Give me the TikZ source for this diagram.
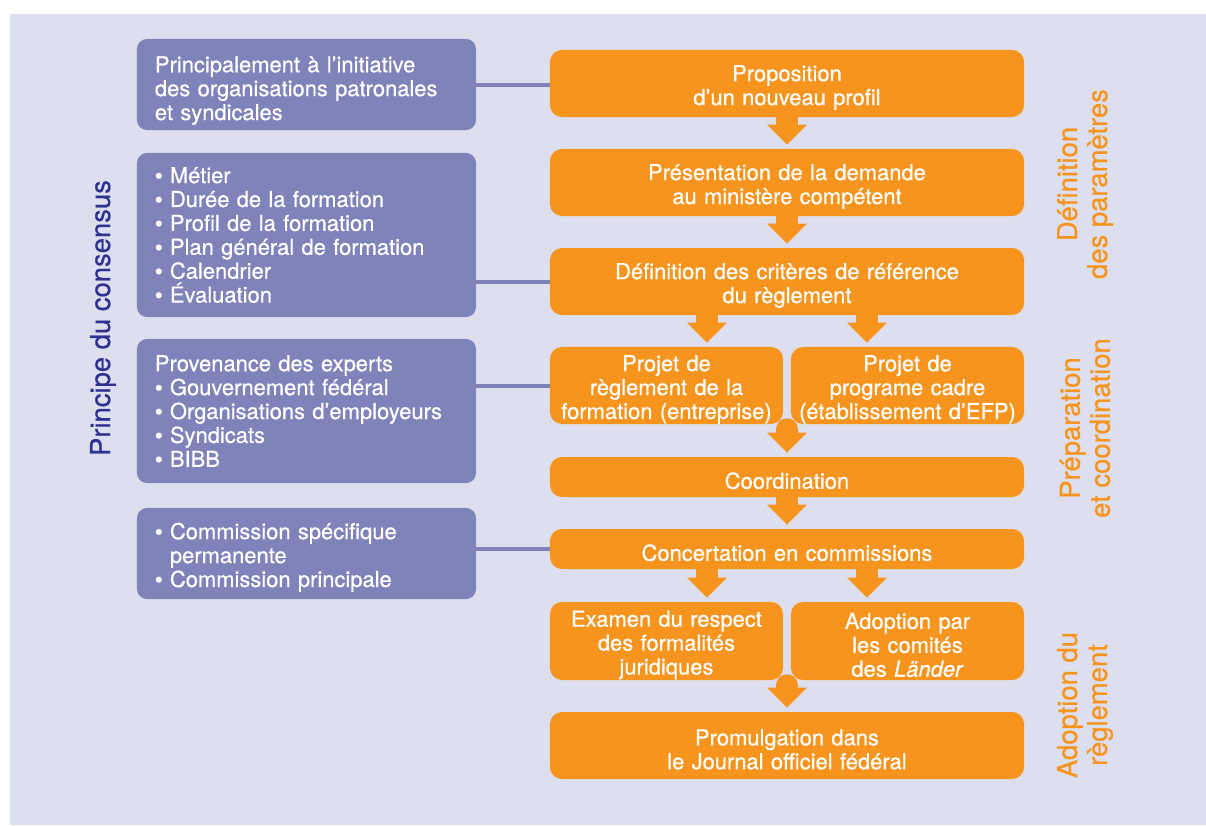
\documentclass[tikz,border=0pt]{standalone}
\usepackage{fontspec}
\setmainfont{TeX Gyre Heros}[FakeBold=0.6]
\newfontfamily\pucefont{Liberation Sans}[FakeBold=0.6]
\usepackage{xcolor}
\usetikzlibrary{arrows.meta}
\usetikzlibrary{calc}

\definecolor{fond}{HTML}{DDDFEE}
\definecolor{lila}{HTML}{8083B9}
\definecolor{orangeBFS}{HTML}{F7941D}
\definecolor{bleuBFS}{HTML}{2E3192}

\newcommand{\puce}{{\pucefont •}\ }

\begin{document}
\begin{tikzpicture}[x=0.025cm, y=-0.025cm,
	every node/.style={font=\fontsize{15.6pt}{17pt}\selectfont, text=white},
	abaisse/.style={execute at begin node={\rule{0pt}{#1}}},
	lilabox/.style={fill=lila, rounded corners=0.25cm, align=left, text width=7.575cm, inner xsep=0.45cm, inner ysep=0pt},
	orangebox/.style={fill=orangeBFS, rounded corners=0.3cm, align=center, text width=11.85cm, inner sep=0pt, abaisse=17pt},
	halfbox/.style={orangebox, text width=5.825cm},
	lien/.style={draw=lila, line width=0.1cm},
	fleche/.style={draw=orangeBFS, line width=0.55cm, -{Triangle[width=1cm, length=0.5cm, line width=0pt]}, shorten >=0.1cm},
	phase/.style={rotate=90, text=orangeBFS, align=center, font=\fontsize{19.5pt}{21.3pt}\selectfont},
	titre/.style={rotate=90, text=bleuBFS, font=\fontsize{19.5pt}{21.3pt}\selectfont}]
		%
		%Rahmen
		\useasboundingbox (0,0) rectangle (1206,825);
		\fill[fond] (10,14) rectangle (1206,825);
		%
		%Titel
		\node[titre] (titre) at (103,318) {Principe du consensus};
		%
		%Kaesten links
		\node[lilabox, minimum height=2.275cm, abaisse=20pt] (p1) at (306.5,84.5) {Principalement à l’initiative\\des organisations patronales\\et syndicales};
		\node[lilabox, minimum height=4.1cm] (p2) at (306.5,235) {\puce Métier\\\puce Durée de la formation\\\puce Profil de la formation\\\puce Plan général de formation\\\puce Calendrier\\\puce Évaluation};
		\node[lilabox, minimum height=3.6cm] (p3) at (306.5,411) {Provenance des experts\\\puce Gouvernement fédéral\\\puce Organisations d’employeurs\\\puce Syndicats\\\puce BIBB};
		\node[lilabox, minimum height=2.275cm, abaisse=17pt] (p4) at (306.5,553.5) {\puce Commission spécifique\\\phantom{\puce}permanente\\\puce Commission principale};
		%
		%Ablauf
		\node[orangebox, minimum height=1.675cm] (o1) at (787,83.5) {Proposition\\d’un nouveau profil};
		\node[orangebox, minimum height=1.675cm] (o2) at (787,182.5) {Présentation de la demande\\au ministère compétent};
		\node[orangebox, minimum height=1.675cm] (o3) at (787,281.5) {Définition des critères de référence\\du règlement};
		\node[halfbox, minimum height=1.925cm] (o4a) at (666.5,385.5) {Projet de\\règlement de la\\formation (entreprise)};
		\node[halfbox, minimum height=1.925cm] (o4b) at (907.5,385.5) {Projet de\\programe cadre\\(établissement d’EFP)};
		\node[orangebox, minimum height=1cm] (o5) at (787,477) {Coordination};
		\node[orangebox, minimum height=1cm] (o6) at (787,549) {Concertation en commissions};
		\node[halfbox, minimum height=1.95cm] (o7a) at (666.5,641) {Examen du respect\\des formalités\\juridiques};
		\node[halfbox, minimum height=1.95cm] (o7b) at (907.5,641) {Adoption par\\les comités\\des \textit{Länder}};
		\node[orangebox, minimum height=1.675cm] (o8) at (787,745.5) {Promulgation dans\\le Journal officiel fédéral};
		%
		%Phasen
		\node[phase] (ph1) at (1085,184) {Définition\\des paramètres};
		\node[phase] (ph2) at (1085,428) {Préparation\\et coordination};
		\node[phase] (ph3) at (1085,705) {Adoption du\\règlement};
		%
		%Verbindungen
		\draw[lien] (p1.east) -- (p1.east -| o1.west);
		\draw[lien] (o3.west) -- (o3.west -| p2.east);
		\draw[lien] (o4a.west) -- (o4a.west -| p3.east);
		\draw[lien] (o6.west) -- (o6.west -| p4.east);
		%
		%Pfeile
		\draw[fleche] (o1) -- (o2);
		\draw[fleche] (o2) -- (o3);
		\coordinate (g1) at ([xshift=-2cm]o3.south);
		\coordinate (d1) at ([xshift=2cm]o3.south);
		\draw[fleche] (g1) -- (g1 |- o4a.north);
		\draw[fleche] (d1) -- (d1 |- o4b.north);
		\coordinate (m1) at ($(o4a.south east)!0.5!(o4b.south west)$);
		\draw[fleche, line cap=round] ([yshift=-0.125cm]m1) -- (o5);
		\draw[fleche] (o5) -- (o6);
		\coordinate (g2) at ([xshift=-2cm]o6.south);
		\coordinate (d2) at ([xshift=2cm]o6.south);
		\draw[fleche] (g2) -- (g2 |- o7a.north);
		\draw[fleche] (d2) -- (d2 |- o7b.north);
		\coordinate (m2) at ($(o7a.south east)!0.5!(o7b.south west)$);
		\draw[fleche, line cap=round] ([yshift=-0.125cm]m2) -- (o8);
	\end{tikzpicture}
\end{document}
